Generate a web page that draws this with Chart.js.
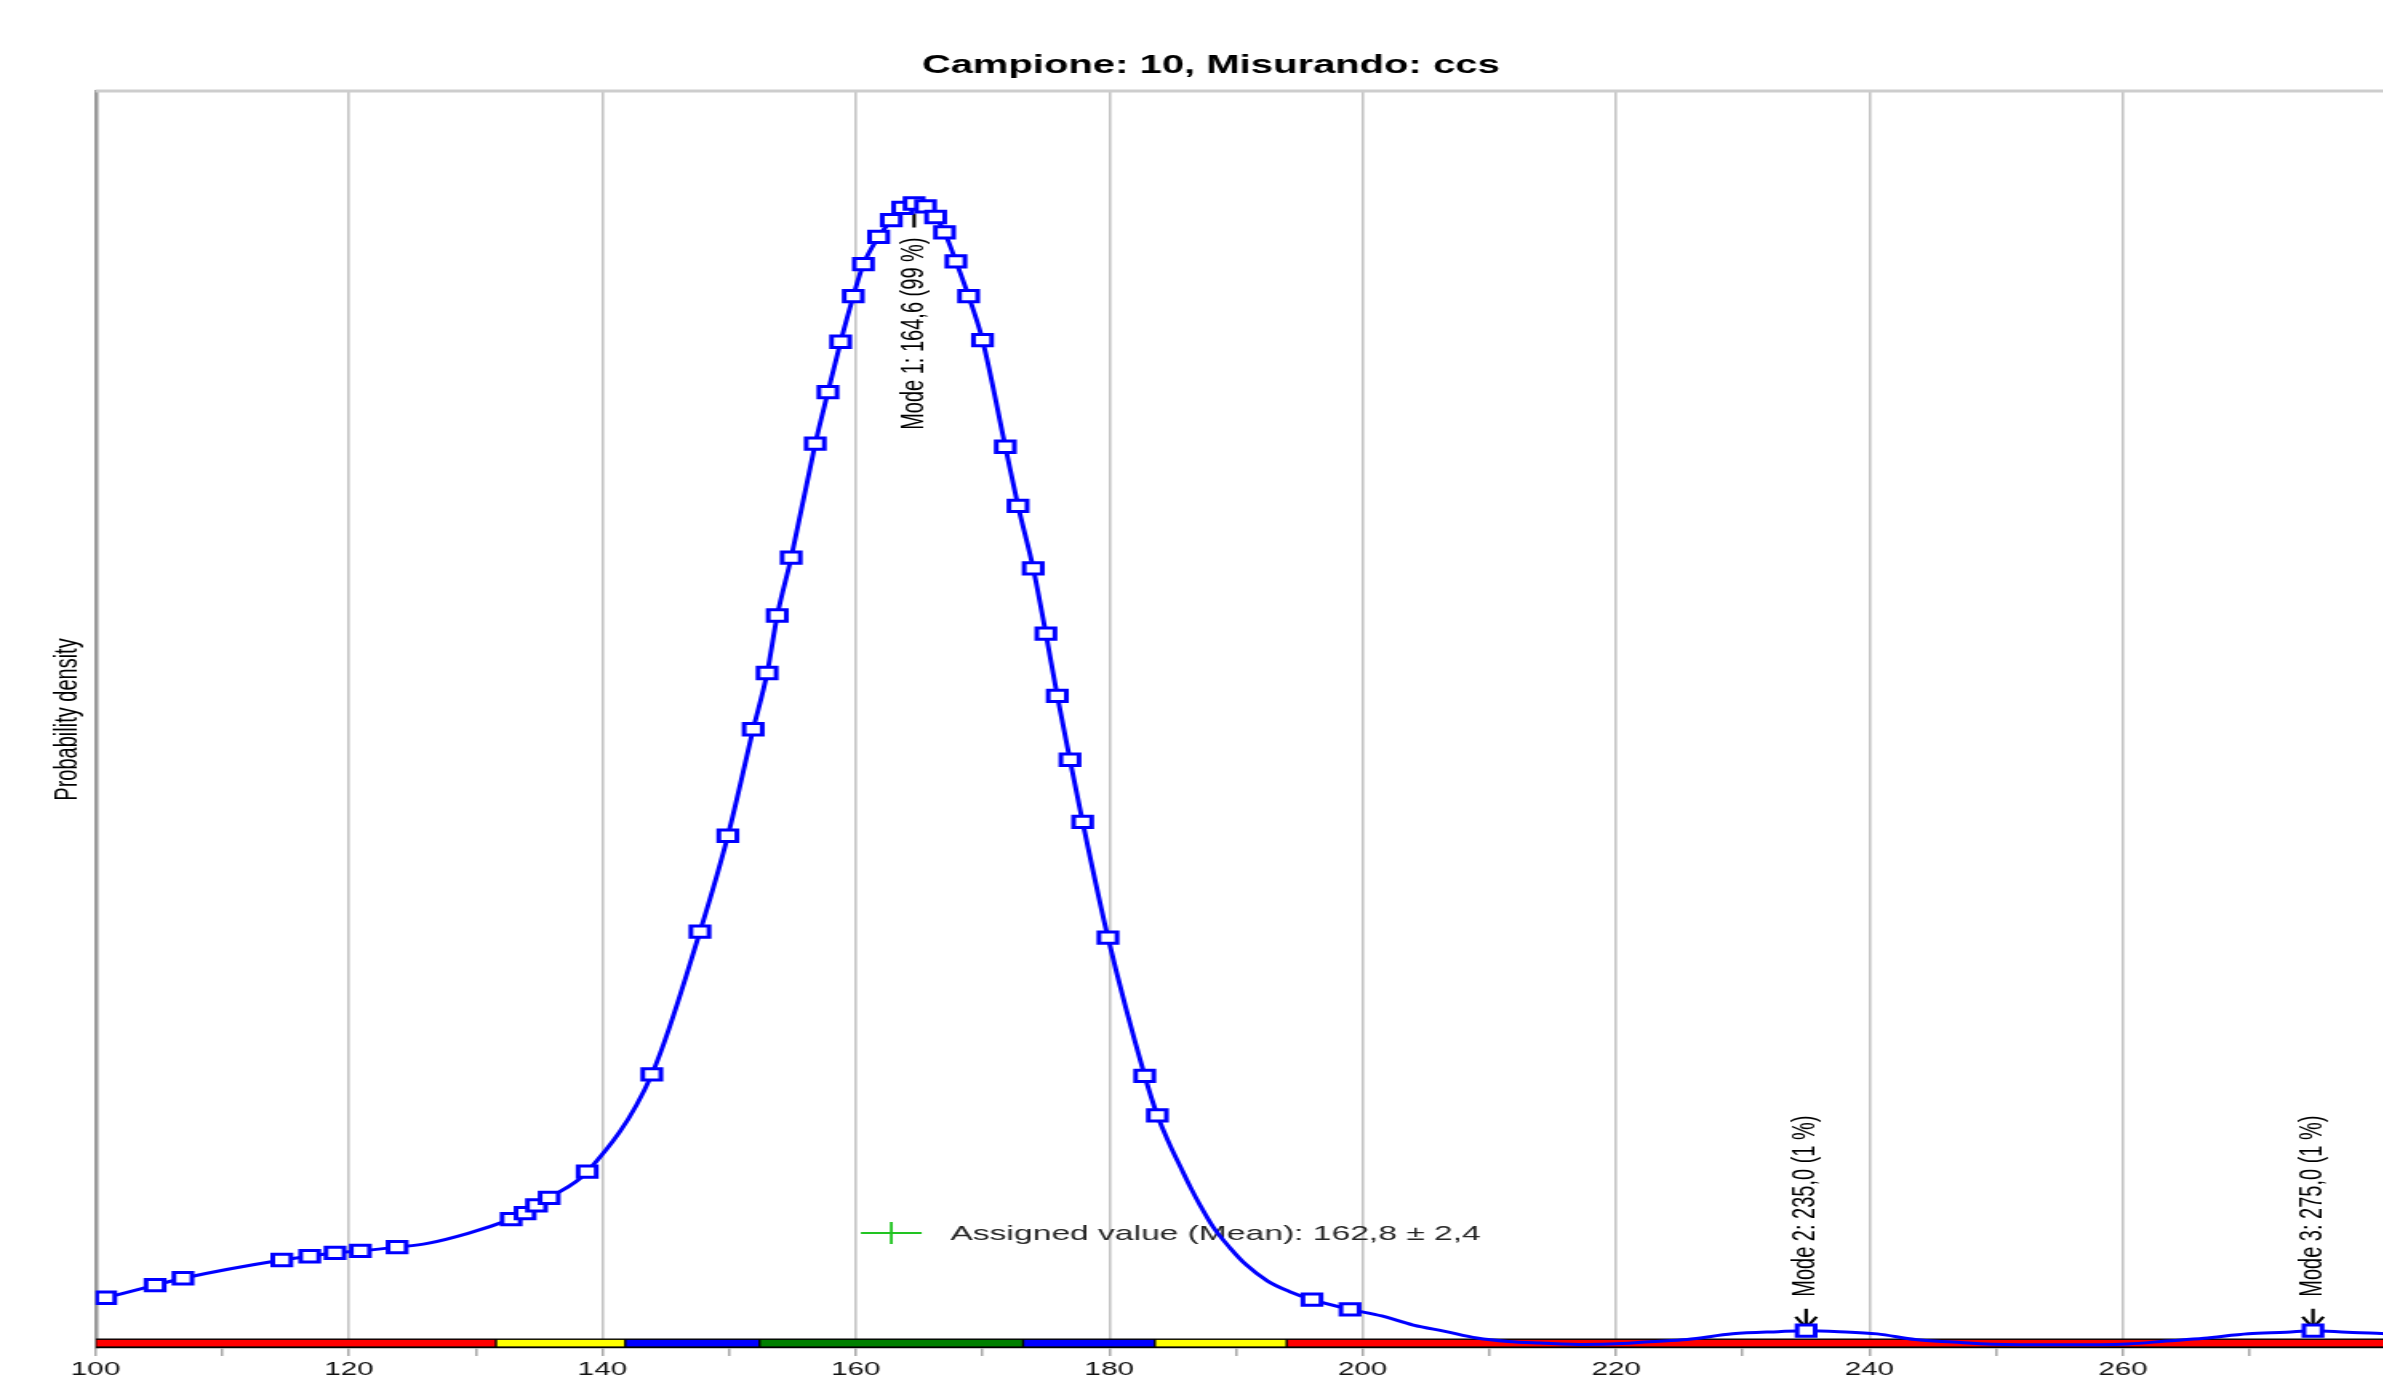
<!DOCTYPE html>
<html><head><meta charset="utf-8">
<script src="https://cdn.jsdelivr.net/npm/chart.js@4.4.1/dist/chart.umd.min.js"></script>
<style>
html,body{margin:0;padding:0;background:#ffffff;overflow:hidden;width:2383px;height:1375px}
</style></head><body>
<canvas id="c" width="1520" height="1400" style="display:block;width:2432px;height:1400px"></canvas>
<script>
// ---- data ----
const chartTitle = 'Campione: 10, Misurando: ccs';
const yAxisTitle = 'Probability density';
const xRange = [100, 283];
const xTickStep = 10;
const xLabelStep = 20;
const yRange = [0, 0.04];

// measured results (markers)
const sampleX = [100.8, 104.7, 106.9, 114.7, 116.9, 118.9, 120.9, 123.8, 132.8, 133.9, 134.8, 135.8,
  138.8, 143.9, 147.7, 149.9, 151.9, 153.0, 153.8, 154.9, 156.8, 157.8, 158.8, 159.8, 160.6, 161.8,
  162.8, 163.7, 164.6, 165.5, 166.3, 167.0, 167.9, 168.9, 170.0, 171.8, 172.8, 174.0, 175.0, 175.9,
  176.9, 177.9, 179.9, 182.8, 183.8, 196.0, 199.0, 235.0, 275.0];
const sampleY = [0.00160, 0.00200, 0.00222, 0.00280, 0.00292, 0.00303, 0.00309, 0.00321, 0.00410, 0.00429, 0.00454, 0.00478,
  0.00561, 0.00871, 0.01325, 0.01630, 0.01969, 0.02148, 0.02331, 0.02515, 0.02878, 0.03042, 0.03202, 0.03347, 0.03449, 0.03536,
  0.03589, 0.03628, 0.03642, 0.03633, 0.03599, 0.03550, 0.03458, 0.03347, 0.03207, 0.02868, 0.02680, 0.02481, 0.02273, 0.02075,
  0.01872, 0.01674, 0.01306, 0.00866, 0.00740, 0.00154, 0.00123, 0.00055, 0.00055];

// extra points of the density curve between markers
const curveX = [126.2, 129.4, 184.8, 185.6, 186.4, 187.2, 188.2, 189.5, 190.8, 192.5, 194.2,
  201.5, 204.0, 206.5, 209.0, 211.5, 214.0, 217.5, 220.5, 222.6, 225.6, 229.2, 232.8,
  237.6, 240.6, 243.6, 246.6, 249.6, 255.0, 260.4, 263.4, 266.4, 269.9, 272.9, 277.7, 280.0, 283.0];
const curveY = [0.00333, 0.00365, 0.00645, 0.00578, 0.00512, 0.00452, 0.00385, 0.00320, 0.00265, 0.00213, 0.00180,
  0.00102, 0.00073, 0.00053, 0.00032, 0.00021, 0.00016, 0.00011, 0.00014, 0.00020, 0.00027, 0.00045, 0.00052,
  0.00052, 0.00045, 0.00027, 0.00019, 0.00012, 0.00010, 0.00013, 0.00022, 0.00031, 0.00045, 0.00050, 0.00050, 0.00047, 0.00040];

const modeX = [164.6, 235.0, 275.0];
const modeLabels = ['Mode 1: 164,6 (99 %)', 'Mode 2: 235,0 (1 %)', 'Mode 3: 275,0 (1 %)'];

const assignedValue = 162.8;
const assignedU = 2.4;
const assignedY = 0.00366;
const assignedLabel = 'Assigned value (Mean): 162,8 \u00b1 2,4';

const bandEdges = [100, 131.6, 141.8, 152.4, 173.2, 183.6, 194.0, 283];
const bandColors = ['#ff0000', '#ffff00', '#0000ff', '#008000', '#0000ff', '#ffff00', '#ff0000'];

// ---- chart ----
const FONT = "'Liberation Sans', Arial, sans-serif";
const samplePts = sampleX.map((x, i) => ({x, y: sampleY[i]}));
const curvePts = samplePts.concat(curveX.map((x, i) => ({x, y: curveY[i]}))).sort((a, b) => a.x - b.x);

const framePlugin = {
  id: 'frame',
  beforeDatasetsDraw(chart) {
    const {ctx, chartArea: a, scales: {x, y}} = chart;
    ctx.save();
    // top frame line
    ctx.strokeStyle = '#cdcdcd';
    ctx.lineWidth = 3;
    ctx.beginPath(); ctx.moveTo(a.left, a.top); ctx.lineTo(a.right, a.top); ctx.stroke();
    // colour band along the bottom
    ctx.beginPath(); ctx.rect(a.left, a.top, a.right - a.left, a.bottom - a.top); ctx.clip();
    const bH = 9.5, bTop = a.bottom - bH;
    ctx.fillStyle = '#000';
    ctx.fillRect(x.getPixelForValue(bandEdges[0]), bTop, x.getPixelForValue(bandEdges[bandEdges.length - 1]) - x.getPixelForValue(bandEdges[0]), bH);
    for (let i = 0; i < bandColors.length; i++) {
      const x0 = x.getPixelForValue(bandEdges[i]) + 0.7;
      const x1 = x.getPixelForValue(bandEdges[i + 1]) - 0.7;
      ctx.fillStyle = bandColors[i];
      ctx.fillRect(x0, bTop + 1.4, x1 - x0, bH - 3);
    }
    ctx.restore();

    // assigned value marker with uncertainty bar
    ctx.save();
    const yp = y.getPixelForValue(assignedY);
    const xa = x.getPixelForValue(assignedValue - assignedU);
    const xb = x.getPixelForValue(assignedValue + assignedU);
    const xc = x.getPixelForValue(assignedValue);
    ctx.strokeStyle = '#22c422';
    ctx.lineWidth = 1.8;
    ctx.beginPath();
    ctx.moveTo(xa, yp); ctx.lineTo(xb, yp);
    ctx.moveTo(xc, yp - 11); ctx.lineTo(xc, yp + 11);
    ctx.stroke();
    ctx.fillStyle = '#262626';
    ctx.font = '21px ' + FONT;
    ctx.textAlign = 'left'; ctx.textBaseline = 'middle';
    ctx.fillText(assignedLabel, xb + 18, yp + 1);
    ctx.restore();

    // mode annotations
    ctx.save();
    ctx.fillStyle = '#000';
    ctx.strokeStyle = '#000';
    ctx.font = '20px ' + FONT;
    ctx.textBaseline = 'middle';
    modeX.forEach((mx, i) => {
      let best = 0;
      sampleX.forEach((sx, j) => { if (Math.abs(sx - mx) < Math.abs(sampleX[best] - mx)) best = j; });
      const px = x.getPixelForValue(mx);
      const py = y.getPixelForValue(sampleY[best]);
      const w = ctx.measureText(modeLabels[i]).width;
      const above = py - 34 - w > a.top;
      ctx.lineWidth = 2.2;
      ctx.beginPath();
      if (above) {
        ctx.moveTo(px, py - 22); ctx.lineTo(px, py - 3);
        ctx.moveTo(px - 6.5, py - 14); ctx.lineTo(px, py - 3); ctx.lineTo(px + 6.5, py - 14);
      } else {
        ctx.moveTo(px, py + 10); ctx.lineTo(px, py + 24);
      }
      ctx.stroke();
      ctx.save();
      ctx.translate(px, above ? py - 34 : py + 34);
      ctx.rotate(-Math.PI / 2);
      ctx.textAlign = above ? 'left' : 'right';
      ctx.fillText(modeLabels[i], 0, 0);
      ctx.restore();
    });
    ctx.restore();
  }
};

const chart = new Chart(document.getElementById('c'), {
  type: 'line',
  data: {
    datasets: [
      {
        label: 'Results',
        data: samplePts,
        showLine: false,
        pointStyle: 'rect',
        pointRadius: 8,
        pointBorderWidth: 3,
        pointBorderColor: '#0000ff',
        pointBackgroundColor: '#ffffff',
        order: 0
      },
      {
        label: 'Kernel density',
        data: curvePts,
        borderColor: '#0000ff',
        borderWidth: 3,
        pointRadius: 0,
        cubicInterpolationMode: 'monotone',
        fill: false,
        order: 1
      }
    ]
  },
  options: {
    responsive: false,
    devicePixelRatio: 1,
    animation: false,
    layout: {padding: {left: 0, right: 6.5, top: 0, bottom: 0}},
    plugins: {
      legend: {display: false},
      tooltip: {enabled: false},
      title: {
        display: true, text: chartTitle, color: '#000',
        font: {family: FONT, size: 25, weight: 'bold'},
        padding: {top: 51, bottom: 10}
      }
    },
    scales: {
      x: {
        type: 'linear', min: xRange[0], max: xRange[1],
        afterFit: s => { s.height = 52; },
        ticks: {
          stepSize: xTickStep, autoSkip: false, maxRotation: 0, minRotation: 0, padding: 3,
          color: '#111', font: {family: FONT, size: 18.5},
          callback: v => (v % xLabelStep === 0 ? String(v) : '')
        },
        grid: {
          color: c => (c.tick && c.tick.value % xLabelStep === 0) ? '#c4c4c4' : 'rgba(0,0,0,0)',
          lineWidth: 1.6, tickColor: '#9a9a9a', tickLength: 8, tickWidth: 1.3
        },
        border: {display: true, color: '#8a8a8a', width: 1.5}
      },
      y: {
        min: yRange[0], max: yRange[1],
        afterFit: s => { s.width = 59.75; },
        ticks: {display: false},
        grid: {display: false},
        border: {display: true, color: '#9a9a9a', width: 2.5},
        title: {display: true, text: yAxisTitle, color: '#000', font: {family: FONT, size: 20}, padding: {top: 30, bottom: 0}}
      }
    }
  },
  plugins: [framePlugin]
});
chart.canvas.style.width = '2432px';
chart.canvas.style.height = '1400px';
</script>
</body></html>
